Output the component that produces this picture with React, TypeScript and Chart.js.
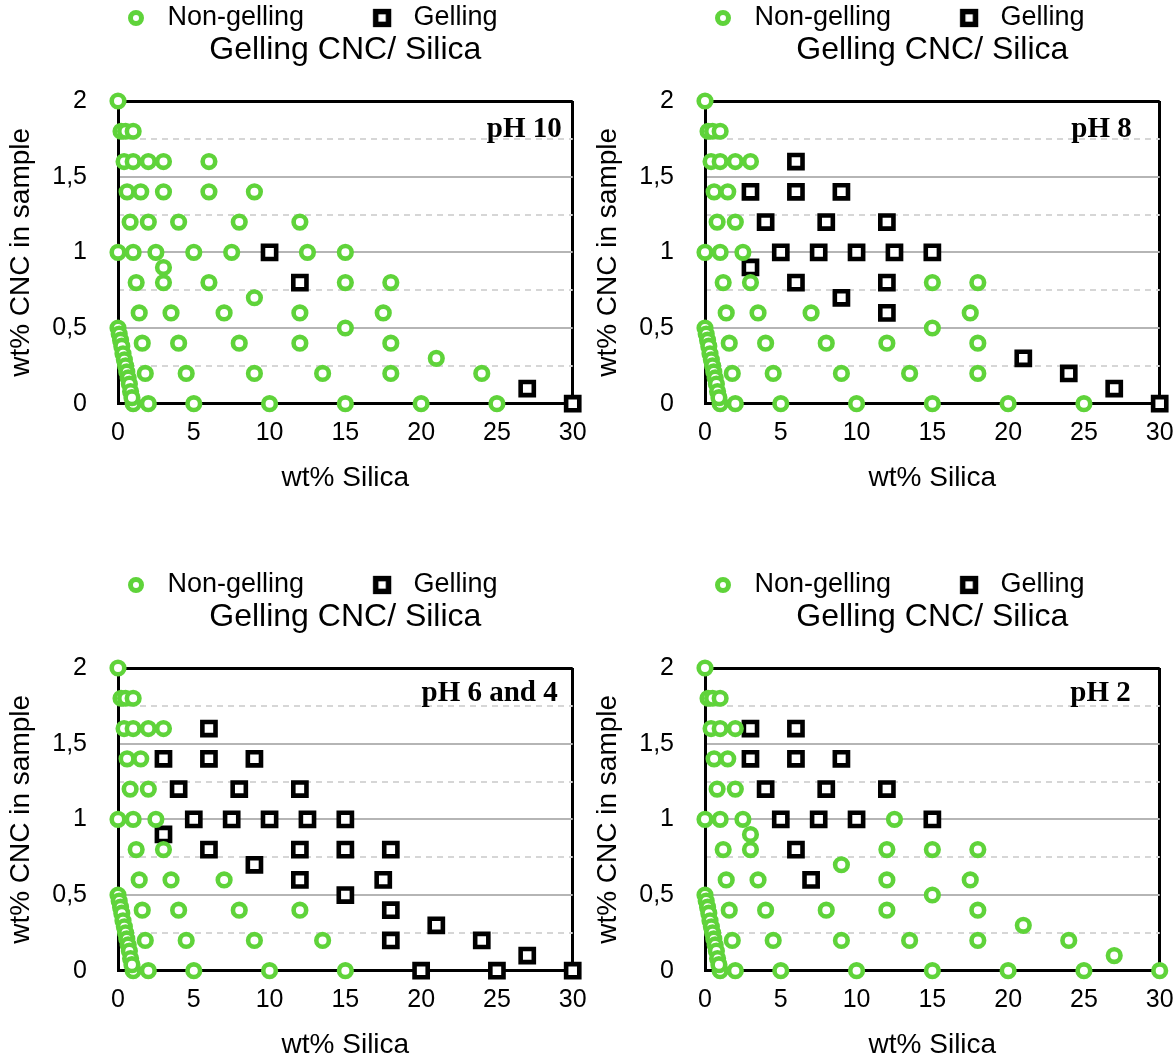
import React, { useEffect, useRef } from 'react';
import { Chart, registerables } from 'chart.js';

Chart.register(...registerables);
Chart.defaults.font.family = "'Liberation Sans', Arial, Helvetica, sans-serif";
Chart.defaults.color = '#000';

const GREEN = '#5fd33a';

// All prepared samples (wt% silica, wt% CNC)
const sampleSilica = [
  0,
  0.2, 0.5, 1,
  0.4, 1, 2, 3, 6,
  0.6, 1.5, 3, 6, 9,
  0.8, 2, 4, 8, 12,
  0, 1, 2.5, 5, 7.5, 10, 12.5, 15,
  3,
  1.2, 3, 6, 12, 15, 18,
  9,
  1.4, 3.5, 7, 12, 17.5,
  15,
  1.6, 4, 8, 12, 18,
  21,
  1.8, 4.5, 9, 13.5, 18, 24,
  27,
  1, 2, 5, 10, 15, 20, 25, 30,
  0, 0.08, 0.17, 0.25, 0.33, 0.42, 0.5, 0.58, 0.67, 0.75, 0.83, 0.92,
];
const sampleCnc = [
  2,
  1.8, 1.8, 1.8,
  1.6, 1.6, 1.6, 1.6, 1.6,
  1.4, 1.4, 1.4, 1.4, 1.4,
  1.2, 1.2, 1.2, 1.2, 1.2,
  1, 1, 1, 1, 1, 1, 1, 1,
  0.9,
  0.8, 0.8, 0.8, 0.8, 0.8, 0.8,
  0.7,
  0.6, 0.6, 0.6, 0.6, 0.6,
  0.5,
  0.4, 0.4, 0.4, 0.4, 0.4,
  0.3,
  0.2, 0.2, 0.2, 0.2, 0.2, 0.2,
  0.1,
  0, 0, 0, 0, 0, 0, 0, 0,
  0.5, 0.46, 0.42, 0.38, 0.33, 0.29, 0.25, 0.21, 0.17, 0.13, 0.08, 0.04,
];

// Gelling samples per pH
const gelPh10Silica = [10, 12, 27, 30];
const gelPh10Cnc = [1, 0.8, 0.1, 0];

const gelPh8Silica = [6, 3, 6, 9, 4, 8, 12, 5, 7.5, 10, 12.5, 15, 3, 6, 12, 9, 12, 21, 24, 27, 30];
const gelPh8Cnc = [1.6, 1.4, 1.4, 1.4, 1.2, 1.2, 1.2, 1, 1, 1, 1, 1, 0.9, 0.8, 0.8, 0.7, 0.6, 0.3, 0.2, 0.1, 0];

const gelPh64Silica = [6, 3, 6, 9, 4, 8, 12, 5, 7.5, 10, 12.5, 15, 3, 6, 12, 15, 18, 9, 12, 17.5, 15, 18, 21, 18, 24, 27, 20, 25, 30];
const gelPh64Cnc = [1.6, 1.4, 1.4, 1.4, 1.2, 1.2, 1.2, 1, 1, 1, 1, 1, 0.9, 0.8, 0.8, 0.8, 0.8, 0.7, 0.6, 0.6, 0.5, 0.4, 0.3, 0.2, 0.2, 0.1, 0, 0, 0];

const gelPh2Silica = [3, 6, 3, 6, 9, 4, 8, 12, 5, 7.5, 10, 15, 6, 7];
const gelPh2Cnc = [1.6, 1.6, 1.4, 1.4, 1.4, 1.2, 1.2, 1.2, 1, 1, 1, 1, 0.8, 0.6];

const xTickLabels = ['0', '5', '10', '15', '20', '25', '30'];
const yTickLabels = ['0', '0,5', '1', '1,5', '2'];

const legendLabels = ['Non-gelling', 'Gelling'];
const chartTitle = 'Gelling CNC/ Silica';
const xTitle = 'wt% Silica';
const yTitle = 'wt% CNC in sample';

type PanelCfg = {
  ph: string;
  gelX: number[];
  gelY: number[];
  left: number;
  top: number;
  labelRight: number;
  labelBase: number;
};

const panels: PanelCfg[] = [
  { ph: 'pH 10', gelX: gelPh10Silica, gelY: gelPh10Cnc, left: 0, top: 0, labelRight: 11, labelBase: 36 },
  { ph: 'pH 8', gelX: gelPh8Silica, gelY: gelPh8Cnc, left: 587, top: 0, labelRight: 28, labelBase: 36 },
  { ph: 'pH 6 and 4', gelX: gelPh64Silica, gelY: gelPh64Cnc, left: 0, top: 567, labelRight: 15, labelBase: 33 },
  { ph: 'pH 2', gelX: gelPh2Silica, gelY: gelPh2Cnc, left: 587, top: 567, labelRight: 29, labelBase: 33 },
];

const CW = 589;
const CH = 500;
const CLEAR = 'rgba(0,0,0,0)';

function circleIcon(): HTMLCanvasElement {
  const c = document.createElement('canvas');
  c.width = 22;
  c.height = 22;
  const g = c.getContext('2d')!;
  g.strokeStyle = GREEN;
  g.lineWidth = 5;
  g.beginPath();
  g.arc(11, 11, 5.5, 0, Math.PI * 2);
  g.stroke();
  return c;
}

function squareIcon(): HTMLCanvasElement {
  const c = document.createElement('canvas');
  c.width = 22;
  c.height = 22;
  const g = c.getContext('2d')!;
  g.strokeStyle = '#000';
  g.lineWidth = 5.5;
  g.strokeRect(11 - 6.4, 11 - 6.4, 12.8, 12.8);
  return c;
}

const phLabelPlugin = {
  id: 'phLabel',
  afterDatasetsDraw(chart: any, _args: any, opts: any) {
    const { ctx, chartArea } = chart;
    ctx.save();
    ctx.font = "bold 29px 'Liberation Serif', 'Times New Roman', serif";
    ctx.fillStyle = '#000';
    ctx.textAlign = 'right';
    ctx.textBaseline = 'alphabetic';
    ctx.fillText(opts.text, chartArea.right - opts.right, chartArea.top + opts.base);
    ctx.restore();
  },
};

function Panel({ cfg }: { cfg: PanelCfg }) {
  const ref = useRef<HTMLCanvasElement | null>(null);
  useEffect(() => {
    if (!ref.current) return;
    const isGel = (x: number, y: number) =>
      cfg.gelX.some((gx, i) => Math.abs(gx - x) < 1e-6 && Math.abs(cfg.gelY[i] - y) < 1e-6);
    const nonGel: { x: number; y: number }[] = [];
    sampleSilica.forEach((x, i) => {
      const y = sampleCnc[i];
      if (!isGel(x, y)) nonGel.push({ x, y });
    });
    const gel = cfg.gelX.map((x, i) => ({ x, y: cfg.gelY[i] }));
    const cIcon = circleIcon();
    const sIcon = squareIcon();

    const chart = new Chart(ref.current, {
      type: 'scatter',
      data: {
        datasets: [
          {
            label: legendLabels[0],
            data: nonGel,
            pointStyle: 'circle',
            pointRadius: 6.3,
            pointHoverRadius: 6.3,
            pointBorderWidth: 4.6,
            pointBorderColor: GREEN,
            pointBackgroundColor: '#fff',
            clip: false,
          } as any,
          {
            label: legendLabels[1],
            data: gel,
            pointStyle: 'rect',
            pointRadius: 9.3,
            pointHoverRadius: 9.3,
            pointBorderWidth: 4.6,
            pointBorderColor: '#000',
            pointBackgroundColor: '#fff',
            clip: false,
          } as any,
        ],
      },
      options: {
        responsive: false,
        animation: false,
        events: [],
        layout: { padding: { top: 4.5, right: 16.3, bottom: 5, left: 0 } },
        plugins: {
          tooltip: { enabled: false },
          legend: {
            display: true,
            position: 'top',
            align: 'start',
            fullSize: false,
            weight: 3000,
            maxHeight: 30,
            labels: {
              usePointStyle: true,
              pointStyleWidth: 36,
              padding: 0,
              color: '#000',
              font: { size: 27 },
              generateLabels: () => [
                {
                  text: legendLabels[0] + '        ',
                  pointStyle: cIcon,
                  fillStyle: '#fff',
                  strokeStyle: GREEN,
                  lineWidth: 5,
                  hidden: false,
                  datasetIndex: 0,
                  fontColor: '#000',
                } as any,
                {
                  text: legendLabels[1],
                  pointStyle: sIcon,
                  fillStyle: '#fff',
                  strokeStyle: '#000',
                  lineWidth: 5,
                  hidden: false,
                  datasetIndex: 1,
                  fontColor: '#000',
                } as any,
              ],
            },
          } as any,
          title: {
            display: true,
            text: chartTitle,
            fullSize: false,
            color: '#000',
            font: { size: 32, weight: 'normal', lineHeight: 1 },
            padding: { top: -0.5, bottom: 35 },
          },
          phLabel: { text: cfg.ph, right: cfg.labelRight, base: cfg.labelBase },
        } as any,
        scales: {
          x: {
            type: 'linear',
            min: 0,
            max: 30,
            ticks: {
              stepSize: 5,
              padding: 14.5,
              color: '#000',
              font: { size: 25 },
              maxRotation: 0,
              callback: (_v: any, i: number) => xTickLabels[i] ?? '',
            },
            grid: {
              drawTicks: false,
              color: (c: any) => (c.tick && c.tick.value === 30 ? '#000' : CLEAR),
              lineWidth: 3,
            },
            border: { color: '#000', width: 3 },
            title: {
              display: true,
              text: xTitle,
              color: '#000',
              font: { size: 28 },
              padding: { top: 0, bottom: 0 },
            },
            afterFit: (s: any) => {
              s.height = 91.3;
              s.paddingLeft = 0;
              s.paddingRight = 0;
            },
          },
          y: {
            type: 'linear',
            min: 0,
            max: 2,
            ticks: {
              stepSize: 0.5,
              padding: 31,
              color: '#000',
              font: { size: 25 },
              callback: (_v: any, i: number) => yTickLabels[i] ?? '',
            },
            grid: {
              drawTicks: false,
              color: (c: any) => {
                const v = c.tick ? c.tick.value : -1;
                if (v === 2) return '#000';
                if (v === 0) return CLEAR;
                return '#b5b5b5';
              },
              lineWidth: (c: any) => (c.tick && c.tick.value === 2 ? 3 : 2),
            },
            border: { color: '#000', width: 3 },
            title: {
              display: true,
              text: yTitle,
              color: '#000',
              font: { size: 28 },
              padding: { top: 4.7, bottom: 0 },
            },
            afterFit: (s: any) => {
              s.width = 118;
            },
          },
          yMinor: {
            type: 'linear',
            position: 'left',
            min: 0,
            max: 2,
            ticks: { display: false, stepSize: 0.25 },
            grid: {
              drawTicks: false,
              color: (c: any) => {
                const v = c.tick ? Math.round(c.tick.value * 4) : 0;
                return v % 2 === 1 ? '#d6d6d6' : CLEAR;
              },
              lineWidth: 2,
            },
            border: { display: false, dash: [6, 5] },
            afterFit: (s: any) => {
              s.width = 0;
            },
          },
        } as any,
      },
      plugins: [phLabelPlugin as any],
    });
    return () => chart.destroy();
  }, [cfg]);

  return (
    <canvas
      ref={ref}
      width={CW}
      height={CH}
      style={{ position: 'absolute', left: cfg.left, top: cfg.top, width: CW, height: CH }}
    />
  );
}

export default function App() {
  return (
    <div
      style={{
        position: 'absolute',
        left: 0,
        top: 0,
        width: 1176,
        height: 1061,
        overflow: 'hidden',
        background: '#fff',
      }}
    >
      {panels.map((p) => (
        <Panel key={p.ph} cfg={p} />
      ))}
    </div>
  );
}
